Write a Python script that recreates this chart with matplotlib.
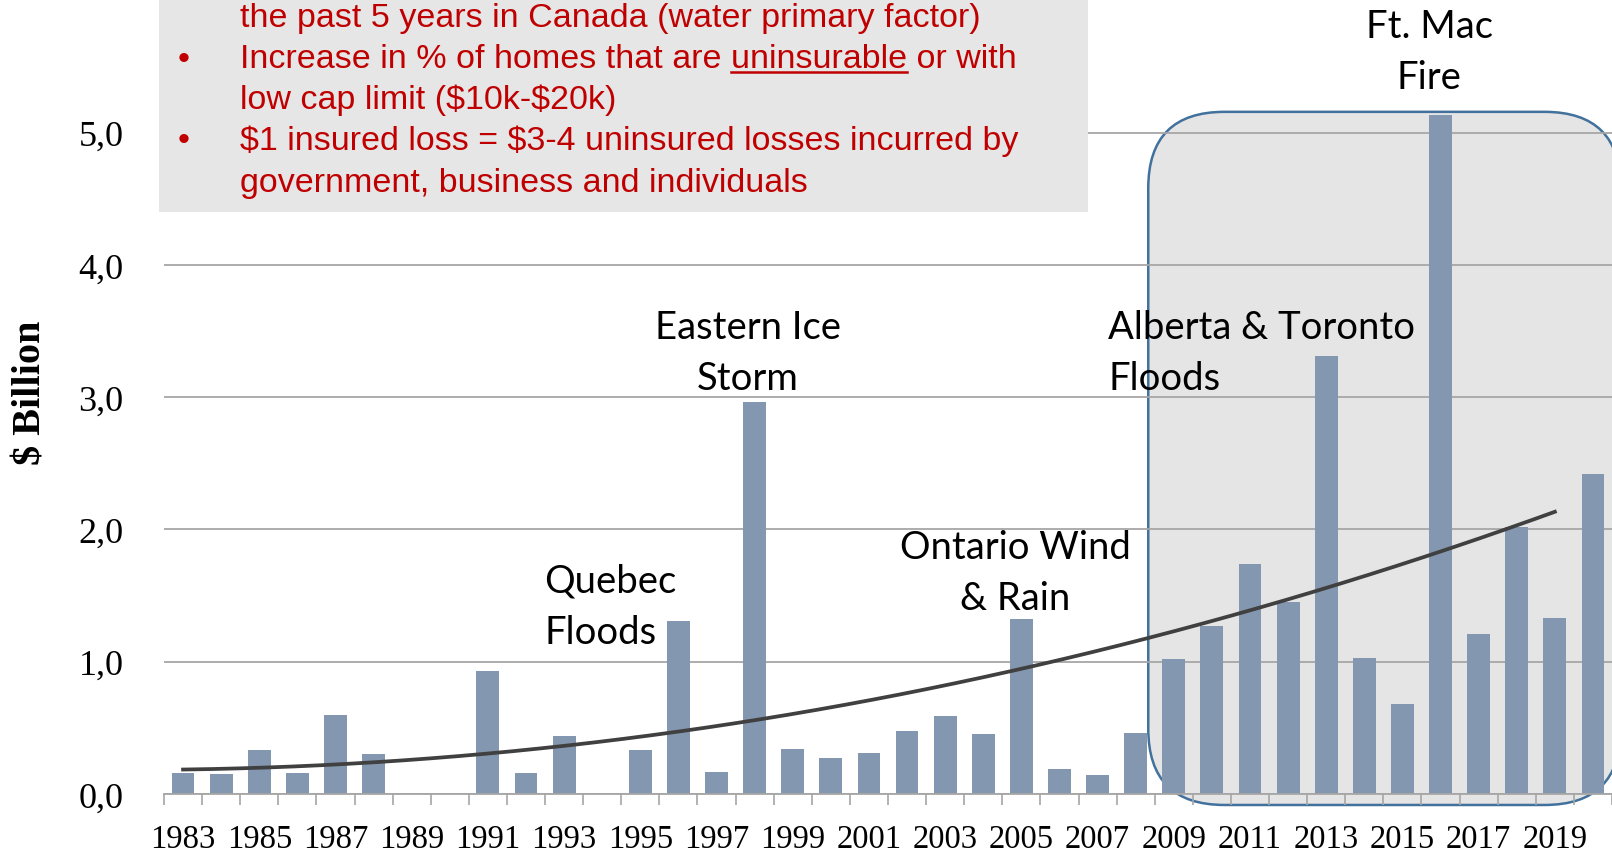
import matplotlib.pyplot as plt
from matplotlib.patches import Rectangle, FancyBboxPatch
from matplotlib.lines import Line2D
import numpy as np

# insured catastrophic losses, $ billion
years = list(range(1983, 2021))
losses = [0.16, 0.15, 0.33, 0.16, 0.60, 0.30, 0.0, 0.0, 0.93, 0.16,
          0.44, 0.0, 0.33, 1.31, 0.17, 2.96, 0.34, 0.27, 0.31, 0.48,
          0.59, 0.45, 1.32, 0.19, 0.14, 0.46, 1.02, 1.27, 1.74, 1.45,
          3.31, 1.03, 0.68, 5.13, 1.21, 2.02, 1.33, 2.42]

# points
trend_years = [1983, 1991, 1998, 2005, 2009, 2013, 2016, 2019]
trend_vals = [0.19, 0.30, 0.55, 0.94, 1.26, 1.56, 1.81, 2.14]

ytick_vals = [0, 1, 2, 3, 4, 5]
ytick_labels = ["0,0", "1,0", "2,0", "3,0", "4,0", "5,0"]

box_lines = [
    "the past 5 years in Canada (water primary factor)",
    "Increase in % of homes that are uninsurable or with",
    "low cap limit ($10k-$20k)",
    "$1 insured loss = $3-4 uninsured losses incurred by",
    "government, business and individuals",
]
box_bullets = [False, True, False, True, False]

# (text lines, x px, y px of first line, alignment)
annotations = [
    (["Quebec", "Floods"], 544, 582, "left"),
    (["Eastern Ice", "Storm"], 748, 328, "center"),
    (["Ontario Wind", "& Rain"], 1015, 548, "center"),
    (["Alberta & Toronto", "Floods"], 1108, 328, "left"),
    (["Ft. Mac", "Fire"], 1429, 27, "center"),
]

W, H = 1612, 853
fig = plt.figure(figsize=(W / 100, H / 100), dpi=100)
ax = fig.add_axes([164 / W, 58 / H, (W - 164) / W, 795 / H])

x = np.arange(len(years))
ax.bar(x, losses, width=0.6, color="#8497B0", zorder=2)

coef = np.polyfit(trend_years, trend_vals, 2)
tx = np.linspace(trend_years[0], trend_years[-1], 200)
ax.plot(tx - years[0], np.polyval(coef, tx), color="#404040", lw=2.7, zorder=3)

ax.set_xlim(-0.5, len(years) - 0.5)
ax.set_ylim(0, 6.01)
ax.set_yticks(ytick_vals)
ax.set_yticklabels(ytick_labels, family="Liberation Serif", fontsize=26)
ax.tick_params(axis="y", length=0, pad=29)
ax.yaxis.grid(True, color="#A6A6A6", lw=1.3)
ax.set_axisbelow(True)

ax.set_xticks(x[::2])
ax.set_xticklabels([str(y) for y in years[::2]], family="Liberation Serif", fontsize=23.5)
ax.set_xticks(np.arange(-0.5, len(years)), minor=True)
ax.tick_params(axis="x", which="major", length=0, pad=21.5)
ax.tick_params(axis="x", which="minor", length=8, color="#A6A6A6", width=1.2)
for s in ["top", "right", "left"]:
    ax.spines[s].set_visible(False)
ax.spines["bottom"].set_color("#A6A6A6")
ax.spines["bottom"].set_linewidth(1.3)

# highlight box around recent years
px_x = (W - 164) / len(years)
px_y = 795 / 6.01
hl = FancyBboxPatch((25.33, -0.083), 12.4, 5.24,
                    boxstyle="round,pad=0,rounding_size=2.0",
                    mutation_aspect=px_x / px_y,
                    fc=(0.6, 0.6, 0.6, 0.25), ec="#41719C", lw=1.8,
                    clip_on=False, zorder=0.3)
ax.add_patch(hl)

fig.text(31 / W, 1 - 382 * 1.028 / H, "$ Billion", rotation=90, family="Liberation Serif",
         fontweight="bold", fontsize=29, ha="center", va="center", parse_math=False)

for lines, xp, yp, ha in annotations:
    for i, line in enumerate(lines):
        fig.text(xp / W, 1 - (yp + 51 * i) / H, line, family="Lato", fontsize=27.5,
                 ha=ha, va="center", zorder=5)

# gray note box at top
fig.add_artist(Rectangle((159 / W, 1 - 213 / H), (1088 - 159) / W, 213 / H + 0.01,
                         transform=fig.transFigure, fc="#E6E6E6", ec="none", zorder=4))
red = "#C00000"
fs_note = 24.5
baselines = [27.5, 68.5, 109, 150, 192]
for line, bul, yb in zip(box_lines, box_bullets, baselines):
    if bul:
        fig.text(184 / W, 1 - yb / H, "\u2022", color=red, family="Liberation Sans",
                 fontsize=fs_note, ha="center", va="baseline", zorder=5)
    fig.text(240 / W, 1 - yb / H, line, color=red, family="Liberation Sans",
             fontsize=fs_note, ha="left", va="baseline", zorder=5, parse_math=False)

# underline "uninsurable"
r = fig.canvas.get_renderer()
pre = fig.text(240 / W, 0.5, "Increase in % of homes that are ", family="Liberation Sans",
               fontsize=fs_note)
word = fig.text(240 / W, 0.5, "uninsurable", family="Liberation Sans", fontsize=fs_note)
x0 = 240 + pre.get_window_extent(r).width
x1 = x0 + word.get_window_extent(r).width
pre.remove()
word.remove()
fig.add_artist(Line2D([x0 / W, x1 / W], [1 - 73 / H, 1 - 73 / H], color=red, lw=1.8,
                      transform=fig.transFigure, zorder=5))

fig.savefig("out.png", dpi=100)
